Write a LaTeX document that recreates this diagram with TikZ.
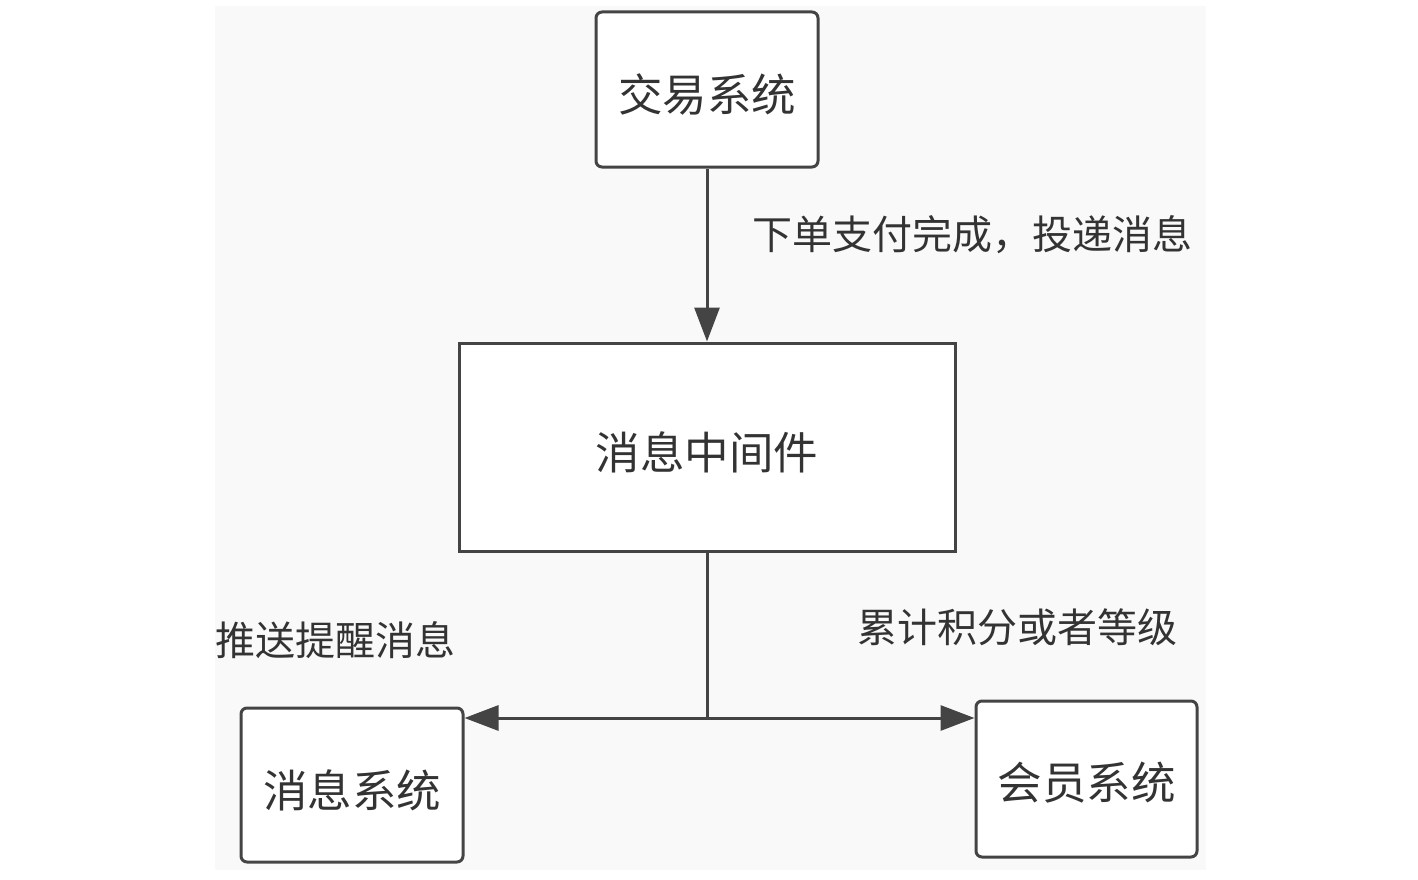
\documentclass[tikz,border=0pt]{standalone}
\usepackage{fontspec}
\setmainfont{Noto Sans CJK SC}
\usetikzlibrary{arrows.meta}
\definecolor{bg}{HTML}{F9F9F9}
\definecolor{ln}{HTML}{444444}
\definecolor{tx}{HTML}{333333}
\tikzset{
  sysbox/.style={draw=ln, line width=3pt, fill=white, rounded corners=6pt, inner sep=0pt},
  midbox/.style={draw=ln, line width=3pt, fill=white, inner sep=0pt},
  boxtext/.style={font=\fontsize{44.5}{50}\selectfont, text=tx, inner sep=0pt},
  lbl/.style={font=\fontsize{40}{46}\selectfont, text=tx, inner sep=0pt},
  conn/.style={draw=ln, line width=3pt},
  arr/.style={conn, -{Triangle[length=34pt,width=25pt]}}
}
\begin{document}
\begin{tikzpicture}[x=1pt,y=-1pt]
\useasboundingbox (0,0) rectangle (1418,880);
\fill[white] (0,0) rectangle (1418,880);
\fill[bg] (215,6) rectangle (1206,870);
\node[sysbox, minimum width=222pt, minimum height=155pt] (trade) at (707,89.5) {};
\node[midbox, minimum width=496pt, minimum height=208pt] (mq) at (707,447) {};
\node[sysbox, minimum width=222pt, minimum height=154pt] (msg) at (352,785) {};
\node[sysbox, minimum width=221pt, minimum height=156pt] (member) at (1086.5,779) {};
\node[boxtext] (tradeT) at ([yshift=-5pt]trade.center) {交易系统};
\node[boxtext] (mqT) at ([yshift=-5pt]mq.center) {消息中间件};
\node[boxtext] (msgT) at ([yshift=-5pt]msg.center) {消息系统};
\node[boxtext] (memberT) at ([yshift=-4pt]member.center) {会员系统};
\coordinate (junc) at (707,718);
\draw[arr] (trade.south) -- (mq.north);
\draw[conn] (mq.south) -- (junc);
\draw[arr] (junc) -- (msg.east |- junc);
\draw[arr] (junc) -- (member.west |- junc);
\node[lbl] (l1) at (972,235) {下单支付完成，投递消息};
\node[lbl] (l2) at (335,640) {推送提醒消息};
\node[lbl] (l3) at (1017,627) {累计积分或者等级};
\end{tikzpicture}
\end{document}
